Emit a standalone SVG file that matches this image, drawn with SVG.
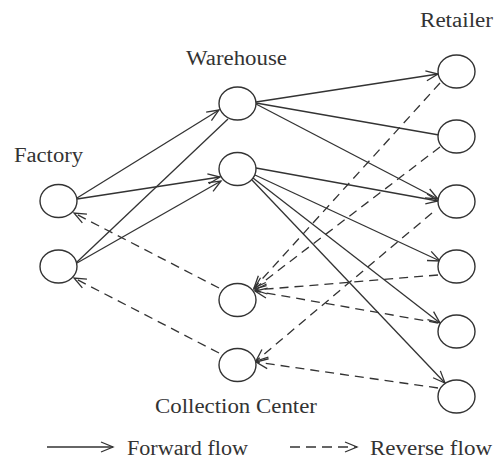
<svg xmlns="http://www.w3.org/2000/svg" width="495" height="460" viewBox="0 0 495 460">
<style>
.node{fill:#fff;stroke:#333;stroke-width:1.4}
.lbl{font-family:"Liberation Serif","Times New Roman",serif;font-size:20px;fill:#333}
.fw{stroke:#333;stroke-width:1.3;fill:none}
.rv{stroke:#333;stroke-width:1.3;fill:none;stroke-dasharray:9,6}
.arr{marker-end:url(#ah)}
</style>
<defs>
<marker id="ah" markerUnits="userSpaceOnUse" viewBox="-13 -7 15 14" refX="0" refY="0" markerWidth="15" markerHeight="14" orient="auto" overflow="visible">
<path d="M-12,-5 L0,0 L-12,5" fill="none" stroke="#333" stroke-width="1.3"/>
</marker>
</defs>
<rect width="495" height="460" fill="#fff"/>
<g id="connectors">
<line class="fw arr" x1="77" y1="198" x2="219" y2="110"/>
<line class="fw arr" x1="77" y1="199" x2="220" y2="177"/>
<line class="fw" x1="77" y1="262" x2="228" y2="119"/>
<line class="fw arr" x1="77" y1="263" x2="221" y2="181"/>
<line class="fw arr" x1="256" y1="102" x2="438" y2="74"/>
<line class="fw" x1="256" y1="103" x2="439" y2="135"/>
<line class="fw arr" x1="256" y1="104" x2="438" y2="199"/>
<line class="fw arr" x1="256" y1="168" x2="438" y2="201"/>
<line class="fw arr" x1="255" y1="175" x2="440" y2="261"/>
<line class="fw arr" x1="253" y1="178" x2="440" y2="323"/>
<line class="fw arr" x1="252" y1="180" x2="445" y2="383"/>
<line class="rv arr" x1="440" y1="83" x2="254" y2="288"/>
<line class="rv arr" x1="440" y1="147" x2="254" y2="289"/>
<line class="rv arr" x1="432" y1="213" x2="256" y2="361"/>
<line class="rv arr" x1="438" y1="275" x2="255" y2="290"/>
<line class="rv arr" x1="438" y1="323" x2="255" y2="291"/>
<line class="rv arr" x1="438" y1="388" x2="256" y2="362"/>
<line class="rv arr" x1="219" y1="288" x2="74" y2="213"/>
<line class="rv arr" x1="219" y1="353" x2="74" y2="278"/>
</g>
<g id="factory-1"><ellipse class="node" cx="58.5" cy="201" rx="18.5" ry="16.5"/></g>
<g id="factory-2"><ellipse class="node" cx="58.5" cy="266.5" rx="18.5" ry="16.5"/></g>
<g id="warehouse-1"><ellipse class="node" cx="237.5" cy="103.5" rx="18.5" ry="16.5"/></g>
<g id="warehouse-2"><ellipse class="node" cx="237.5" cy="169" rx="18.5" ry="16.5"/></g>
<g id="collection-1"><ellipse class="node" cx="237.5" cy="300" rx="18.5" ry="16.5"/></g>
<g id="collection-2"><ellipse class="node" cx="237.5" cy="365" rx="18.5" ry="16.5"/></g>
<g id="retailer-1"><ellipse class="node" cx="456.5" cy="71.5" rx="18.5" ry="16.5"/></g>
<g id="retailer-2"><ellipse class="node" cx="456.5" cy="136.5" rx="18.5" ry="16.5"/></g>
<g id="retailer-3"><ellipse class="node" cx="456.5" cy="201.5" rx="18.5" ry="16.5"/></g>
<g id="retailer-4"><ellipse class="node" cx="456.5" cy="266.5" rx="18.5" ry="16.5"/></g>
<g id="retailer-5"><ellipse class="node" cx="456.5" cy="331.5" rx="18.5" ry="16.5"/></g>
<g id="retailer-6"><ellipse class="node" cx="456.5" cy="396.5" rx="18.5" ry="16.5"/></g>
<g id="labels">
<text class="lbl" x="420" y="27" textLength="73" lengthAdjust="spacingAndGlyphs">Retailer</text>
<text class="lbl" x="186" y="65" textLength="101" lengthAdjust="spacingAndGlyphs">Warehouse</text>
<text class="lbl" x="14" y="162" textLength="69" lengthAdjust="spacingAndGlyphs">Factory</text>
<text class="lbl" x="155" y="413" textLength="162" lengthAdjust="spacingAndGlyphs">Collection Center</text>
</g>
<g id="legend">
<line class="fw arr" x1="47" y1="447" x2="113" y2="447"/>
<text class="lbl" x="127" y="455" textLength="121" lengthAdjust="spacingAndGlyphs">Forward flow</text>
<line class="rv arr" x1="290" y1="447" x2="357" y2="447" style="stroke-dasharray:10,6"/>
<text class="lbl" x="370" y="455" textLength="122" lengthAdjust="spacingAndGlyphs">Reverse flow</text>
</g>
</svg>
